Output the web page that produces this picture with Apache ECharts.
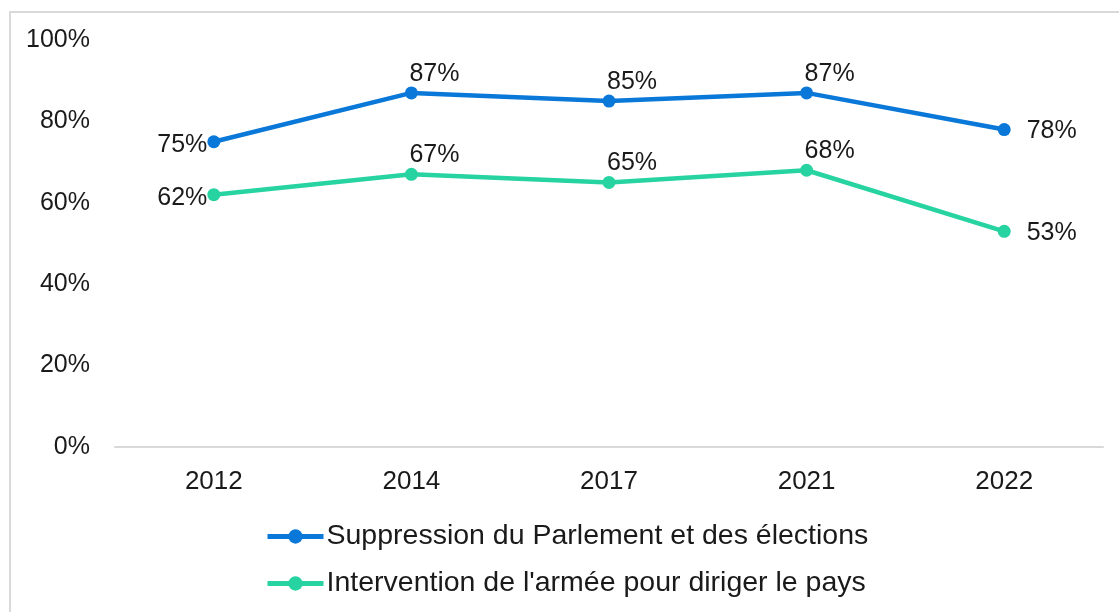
<!DOCTYPE html>
<html><head><meta charset="utf-8">
<script src="https://cdn.jsdelivr.net/npm/echarts@6/dist/echarts.min.js"></script>
<style>
html,body{margin:0;padding:0;background:#fff;}
#frame{position:absolute;left:9px;top:11px;width:1200px;height:700px;border-left:2px solid #d9d9d9;border-top:2px solid #d9d9d9;}
#c{position:absolute;left:0;top:0;width:1119px;height:612px;}
</style></head>
<body>
<div id="frame"></div>
<div id="c"></div>
<script>
const categories = ['2012','2014','2017','2021','2022'];
const seriesNames = ['Suppression du Parlement et des élections', "Intervention de l'armée pour diriger le pays"];
const suppression = [75, 87, 85, 87, 78];
const intervention = [62, 67, 65, 68, 53];
const yTicks = [0, 20, 40, 60, 80, 100];

const font = '"Liberation Sans", Arial, sans-serif';
const chart = echarts.init(document.getElementById('c'));
function mkData(vals){
  return vals.map((v,i)=>{
    if(i===0) return {value:v, label:{position:'left', distance:0, offset:[0,3]}};
    if(i===vals.length-1) return {value:v, label:{position:'right', distance:16, offset:[0,2]}};
    return {value:v, label:{position:'top', align:'left', distance:0, offset:[-2,0]}};
  });
}
chart.setOption({
  backgroundColor:'transparent',
  animation:false,
  textStyle:{fontFamily:font},
  grid:{left:115,right:16,top:40,bottom:165,containLabel:false},
  xAxis:{type:'category',data:categories,boundaryGap:true,
    axisLine:{show:true,lineStyle:{color:'#d9d9d9',width:2}},
    axisTick:{show:false},
    axisLabel:{color:'#1a1a1a',fontSize:26,margin:22,fontFamily:font}},
  yAxis:{type:'value',min:0,max:100,interval:20,
    splitLine:{show:false},axisLine:{show:false},axisTick:{show:false},
    axisLabel:{color:'#1a1a1a',fontSize:25,margin:25,fontFamily:font,formatter:v=>yTicks.includes(v)?v+'%':''}},
  legend:{orient:'vertical',left:260,top:517,itemWidth:56,itemHeight:18,itemGap:18,
    lineStyle:{width:5},
    textStyle:{fontSize:28.5,color:'#1a1a1a',fontFamily:font,padding:[0,0,0,-2]},data:seriesNames},
  series:[
    {name:seriesNames[0],type:'line',data:mkData(suppression),symbol:'circle',symbolSize:13,
     lineStyle:{width:4.5,color:'#0a78d8'},itemStyle:{color:'#0a78d8'},
     label:{show:true,formatter:p=>p.value+'%',fontSize:25,color:'#1a1a1a',fontFamily:font}},
    {name:seriesNames[1],type:'line',data:mkData(intervention),symbol:'circle',symbolSize:13,
     lineStyle:{width:4.5,color:'#27d3a0'},itemStyle:{color:'#27d3a0'},
     label:{show:true,formatter:p=>p.value+'%',fontSize:25,color:'#1a1a1a',fontFamily:font}}
  ]
});
</script>
</body></html>
